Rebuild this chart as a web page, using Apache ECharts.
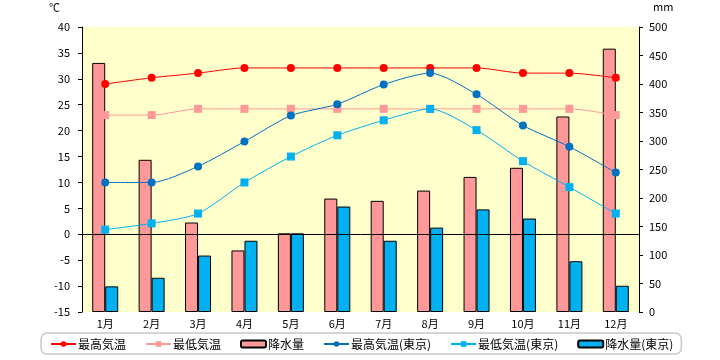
<!DOCTYPE html>
<html><head><meta charset="utf-8">
<script src="https://cdn.jsdelivr.net/npm/echarts@6/dist/echarts.min.js"></script>
<style>html,body{margin:0;padding:0;background:#fff}#c{width:720px;height:360px}</style>
</head><body><div id="c"></div>
<script>
const categories = ['1月','2月','3月','4月','5月','6月','7月','8月','9月','10月','11月','12月'];
const maxTemp = [29.0, 30.2, 31.1, 32.1, 32.1, 32.1, 32.1, 32.1, 32.1, 31.1, 31.1, 30.2];
const minTemp = [23.0, 23.0, 24.2, 24.2, 24.2, 24.2, 24.2, 24.2, 24.2, 24.2, 24.2, 23.0];
const rain = [437, 267, 157, 108, 138, 199, 195, 213, 237, 253, 343, 462];
const maxTempTokyo = [10.0, 10.0, 13.1, 17.9, 22.9, 25.1, 28.9, 31.1, 27.0, 21.0, 16.9, 11.9];
const minTempTokyo = [0.9, 2.1, 4.0, 10.0, 15.0, 19.1, 22.0, 24.2, 20.1, 14.1, 9.1, 4.0];
const rainTokyo = [45, 60, 99, 125, 138, 185, 125, 148, 180, 164, 89, 46];
const tempTicks = {min: -15, max: 40, interval: 5};
const rainTicks = {min: 0, max: 500, interval: 50};

const font = "'Noto Sans CJK JP', sans-serif";
const chart = echarts.init(document.getElementById('c'), null, {renderer: 'canvas'});
const lineSeries = (name, data, color, symbol) => ({
  name, type: 'line', data, yAxisIndex: 0, z: 5,
  smooth: 0.25, symbol, symbolSize: 8, showSymbol: true,
  itemStyle: {color}, lineStyle: {color, width: 1}
});
const barSeries = (name, data, color) => ({
  name, type: 'bar', data, yAxisIndex: 1, barWidth: 13, barGap: '0%', z: 2,
  itemStyle: {color, borderColor: '#000', borderWidth: 1}
});
const s1 = lineSeries('最高気温', maxTemp, '#FF0000', 'circle');
s1.markLine = {silent: true, symbol: 'none', label: {show: false},
  lineStyle: {color: '#000', type: 'solid', width: 1}, data: [{yAxis: 0}], z: 3};
chart.setOption({
  animation: false,
  textStyle: {fontFamily: font},
  grid: {left: 82, right: 81, top: 27, bottom: 48, show: true, backgroundColor: '#FFFFCC', borderWidth: 0},
  legend: {
    left: 41, top: 333, padding: [5, 8, 4, 9], itemGap: 19, itemWidth: 25, itemHeight: 7,
    borderColor: '#C8C8C8', borderWidth: 1.5, borderRadius: 6,
    textStyle: {fontSize: 12, color: '#000', fontFamily: font, padding: [0, 0, 0, -3]},
    data: ['最高気温','最低気温','降水量','最高気温(東京)','最低気温(東京)','降水量(東京)']
  },
  xAxis: {
    type: 'category', data: categories,
    axisLine: {show: false}, axisTick: {show: false},
    axisLabel: {color: '#000', fontSize: 11, margin: 6}
  },
  yAxis: [
    {type: 'value', min: tempTicks.min, max: tempTicks.max, interval: tempTicks.interval,
     name: '℃', nameLocation: 'end', nameGap: 14, nameTextStyle: {color: '#000', fontSize: 11, align: 'right', padding: [0, 22, 0, 0]},
     axisLine: {show: true, lineStyle: {color: '#000'}}, axisTick: {show: true, length: 4, lineStyle: {color: '#000'}},
     splitLine: {show: false}, axisLabel: {color: '#000', fontSize: 11, margin: 12}},
    {type: 'value', min: rainTicks.min, max: rainTicks.max, interval: rainTicks.interval,
     name: 'mm', nameLocation: 'end', nameGap: 15, nameTextStyle: {color: '#000', fontSize: 11, align: 'left', padding: [0, 0, 0, 14]},
     axisLine: {show: true, lineStyle: {color: '#000'}}, axisTick: {show: true, length: 4, lineStyle: {color: '#000'}},
     splitLine: {show: false}, axisLabel: {color: '#000', fontSize: 11, margin: 10}}
  ],
  series: [
    s1,
    lineSeries('最低気温', minTemp, '#FF9999', 'rect'),
    barSeries('降水量', rain, '#FF9999'),
    lineSeries('最高気温(東京)', maxTempTokyo, '#0070C0', 'circle'),
    lineSeries('最低気温(東京)', minTempTokyo, '#00B0F0', 'rect'),
    barSeries('降水量(東京)', rainTokyo, '#00B0F0')
  ]
});
</script></body></html>
